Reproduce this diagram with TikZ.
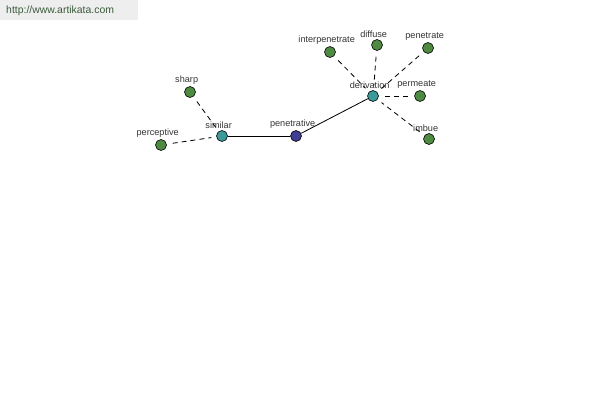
\documentclass[tikz,border=0pt]{standalone}
\usepackage{fontspec}
\setmainfont{Liberation Sans}
\definecolor{leafgreen}{HTML}{4E8A42}
\definecolor{hubteal}{HTML}{3C9A98}
\definecolor{rootblue}{HTML}{3E3F95}
\definecolor{urlgray}{HTML}{EEEEEE}
\definecolor{urltext}{HTML}{3A5A3A}
\definecolor{lbltext}{HTML}{333333}
\tikzset{
  word/.style={circle,draw=black,line width=0.5pt,minimum size=0.33cm,inner sep=0pt},
  leaf/.style={word,fill=leafgreen},
  hub/.style={word,fill=hubteal},
  root/.style={word,fill=rootblue},
  lbl/.style={font=\fontsize{7.8}{9}\selectfont,text=lbltext,inner sep=1pt,xshift=-0.1cm},
  rel/.style={line width=0.7pt,dash pattern=on 0.15cm off 0.12cm,shorten <=0.18cm,shorten >=0.15cm},
  link/.style={line width=0.7pt}
}
\begin{document}
\begin{tikzpicture}[x=0.03cm,y=-0.03cm]
\useasboundingbox (0,0) rectangle (600,400);
\fill[urlgray] (0,0) rectangle (138,20);
\node[anchor=west,font=\fontsize{8.9}{10}\selectfont,text=urltext,inner sep=0pt] (url) at (6,11) {http://www.artikata.com};
% centre words
\node[root,label={[lbl]above:penetrative}] (penetrative) at (296,136) {};
\node[hub,label={[lbl]above:similar}] (similar) at (222,136) {};
\node[hub,label={[lbl]above:derivation}] (derivation) at (373,96) {};
% leaves
\node[leaf,label={[lbl]above:sharp}] (sharp) at (190,92) {};
\node[leaf,label={[lbl]above:perceptive}] (perceptive) at (161,145) {};
\node[leaf,label={[lbl]above:interpenetrate}] (interpenetrate) at (330,52) {};
\node[leaf,label={[lbl]above:diffuse}] (diffuse) at (377,45) {};
\node[leaf,label={[lbl]above:penetrate}] (penetrate) at (428,48) {};
\node[leaf,label={[lbl]above:permeate}] (permeate) at (420,96) {};
\node[leaf,label={[lbl]above:imbue}] (imbue) at (429,139) {};
\draw[link] (similar) -- (penetrative);
\draw[link] (penetrative) -- (derivation);
\foreach \w in {sharp,perceptive}
  \draw[rel] (\w) -- (similar);
\foreach \w in {interpenetrate,diffuse,penetrate,permeate,imbue}
  \draw[rel] (\w) -- (derivation);
\end{tikzpicture}
\end{document}
